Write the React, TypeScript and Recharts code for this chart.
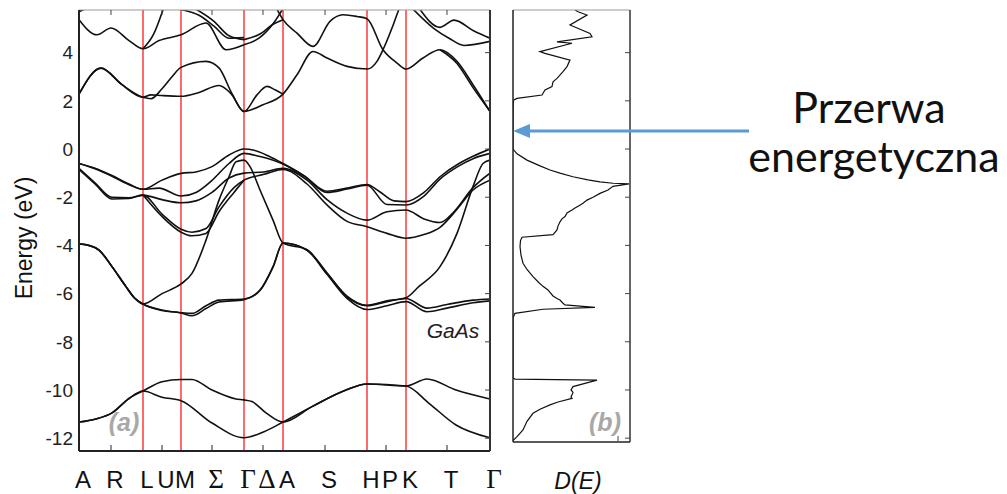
import React from 'react';
import { LineChart, Line, XAxis, YAxis, ReferenceLine } from 'recharts';

// k-path (horizontal distance along path, px-like units)
const symPoints = [64, 102, 165, 204, 288, 327]; // L M Γ A H K (inner)
const kTicks = [0, 32, 64, 83, 102, 133, 165, 184, 204, 246, 288, 307, 327, 368, 411];
const kLabels = ['A', 'R', 'L', 'U', 'M', 'Σ', 'Γ', 'Δ', 'A', 'S', 'H', 'P', 'K', 'T', 'Γ'];
const minorTicks = [32, 83, 133, 184, 246, 307, 368];
const energyTicks = [-12, -10, -8, -6, -4, -2, 0, 2, 4];

// bands: [k, E(eV)]
const sLow = [[0,-11.33],[17,-11.2],[33,-10.95],[50,-10.35],[64,-10.04],[83,-10.3],[102,-10.44],[133,-11.37],[165,-11.98],[185,-11.73],[204,-11.33],[233,-10.69],[267,-10.0],[288,-9.75],[327,-9.83],[350,-10.55],[377,-11.45],[411,-11.98]];
const sHigh = [[0,-11.33],[17,-11.2],[33,-10.95],[50,-10.35],[64,-10.04],[83,-9.66],[102,-9.56],[113,-9.56],[133,-10.0],[157,-10.37],[165,-10.41],[173,-10.48],[187,-10.95],[204,-11.33],[233,-10.69],[267,-10.0],[288,-9.75],[327,-9.83],[348,-9.54],[377,-10.0],[411,-10.37]];

const pLowA = [[0,-3.94],[10,-4.0],[20,-4.19],[33,-4.88],[47,-5.71],[56,-6.2],[64,-6.43],[83,-6.68],[102,-6.79],[113,-6.82],[127,-6.5],[140,-6.27],[165,-6.22],[181,-5.85],[194,-4.88],[204,-3.9],[228,-4.19],[248,-5.16],[268,-6.13],[288,-6.5],[308,-6.33],[327,-6.2],[348,-6.6],[368,-6.45],[394,-6.27],[411,-6.22]];
const pLowB = [[0,-3.94],[10,-4.0],[20,-4.19],[33,-4.88],[47,-5.71],[56,-6.2],[64,-6.43],[83,-6.7],[102,-6.8],[113,-6.92],[127,-6.62],[140,-6.35],[165,-6.25],[181,-5.87],[194,-4.9],[204,-3.9],[228,-4.2],[248,-5.2],[268,-6.2],[288,-6.66],[308,-6.5],[327,-6.33],[348,-6.75],[368,-6.6],[394,-6.38],[411,-6.3]];
const pSteep = [[0,-3.94],[10,-4.0],[20,-4.19],[33,-4.88],[47,-5.71],[56,-6.2],[64,-6.43],[83,-6.0],[102,-5.6],[113,-5.16],[127,-3.78],[140,-2.12],[150,-1.15],[157,-0.53],[165,-0.46],[171,-0.73],[181,-1.7],[194,-2.95],[204,-3.9],[228,-4.18],[248,-5.14],[268,-6.1],[288,-6.48],[308,-6.3],[327,-6.17],[340,-5.7],[361,-4.88],[378,-3.5],[394,-1.56],[404,-0.6],[411,-0.46]];

const v1 = [[0,-0.6],[16,-0.8],[33,-1.1],[50,-1.45],[64,-1.67],[83,-1.29],[102,-1.01],[117,-0.95],[133,-0.73],[150,-0.25],[165,0],[175,-0.05],[190,-0.3],[204,-0.6],[225,-1.1],[248,-1.75],[268,-1.62],[288,-1.47],[300,-1.75],[315,-2.15],[327,-2.18],[345,-1.8],[361,-1.15],[380,-0.6],[394,-0.3],[411,0]];
const v2 = [[0,-0.6],[16,-0.82],[33,-1.13],[50,-1.48],[64,-1.67],[80,-1.62],[102,-1.95],[117,-1.8],[133,-1.3],[150,-0.6],[165,-0.18],[180,-0.3],[204,-0.62],[225,-1.12],[248,-1.8],[268,-1.66],[288,-1.5],[308,-2.3],[327,-2.32],[345,-1.95],[361,-1.25],[380,-0.7],[394,-0.4],[411,-0.18]];
const v3 = [[0,-0.8],[16,-1.4],[33,-2.0],[50,-2.02],[64,-1.91],[83,-2.1],[102,-2.23],[117,-2.15],[133,-1.8],[150,-1.2],[165,-1.0],[185,-0.95],[204,-0.8],[228,-1.29],[248,-2.1],[268,-2.66],[288,-2.95],[308,-2.6],[327,-2.53],[345,-2.9],[361,-3.05],[375,-2.6],[394,-1.6],[411,-1.0]];
const v4 = [[0,-0.85],[16,-1.45],[33,-2.07],[50,-2.05],[64,-1.91],[83,-2.7],[102,-3.33],[113,-3.45],[127,-3.3],[140,-2.4],[155,-1.6],[165,-1.29],[185,-1.05],[204,-0.85],[228,-1.45],[248,-2.32],[268,-3.0],[288,-3.22],[308,-3.5],[327,-3.7],[345,-3.55],[361,-3.25],[378,-2.5],[394,-1.7],[411,-1.29]];
const v5 = [[64,-1.91],[83,-2.8],[102,-3.45],[113,-3.6],[127,-3.5],[140,-2.6],[155,-1.8],[165,-1.29]];

const c1 = [[0,2.28],[22,3.36],[43,2.67],[64,2.15],[72,2.09],[83,2.5],[93,3.0],[102,3.39],[127,3.64],[140,3.37],[153,2.3],[165,1.56],[184,1.84],[204,2.28],[218,3.08],[234,4.05],[248,3.78],[268,3.43],[288,3.32],[298,3.64],[304,4.12],[313,5.02],[319,5.7],[325,6.3]];
const c2 = [[0,2.28],[22,3.36],[43,2.67],[64,2.15],[72,2.25],[83,2.22],[102,2.19],[120,2.35],[140,2.64],[152,2.3],[165,1.56],[178,2.25],[188,2.6],[196,2.46],[204,2.28]];
const c3 = [[198,5.8],[204,5.37],[218,4.81],[234,4.26],[251,5.3],[264,5.57],[278,5.5],[288,5.41],[304,4.12],[318,3.57],[327,3.32],[344,3.78],[361,4.12],[378,3.64],[394,2.67],[411,1.56]];
const c4 = [[361,4.12],[378,3.55],[394,2.55],[411,1.56]];
const c5 = [[0,5.37],[18,4.74],[32,5.02],[50,4.5],[64,4.16],[80,4.5],[102,4.74],[127,5.23],[147,4.12],[165,4.33]];
const c6 = [[64,4.16],[75,4.8],[85,5.9]];
const c7 = [[100,5.8],[120,5.55],[135,5.1],[150,4.6],[165,4.63]];
const c8 = [[115,5.85],[135,5.3],[150,4.7],[165,4.54]];
const c9 = [[165,4.54],[180,4.75],[195,5.2],[204,5.37]];
const c10 = [[165,4.33],[180,4.6],[195,5.25],[205,5.9]];
const c11 = [[333,5.85],[355,5.0],[370,4.6],[385,4.3],[411,4.47]];
const c12 = [[340,5.85],[361,5.05],[375,5.35],[395,4.9],[411,4.6]];
const c13 = [[0,5.7],[8,5.85]];

const bands = [sLow, sHigh, pLowA, pLowB, pSteep, v1, v2, v3, v4, v5, c1, c2, c3, c4, c5, c6, c7, c8, c9, c10, c11, c12, c13];

// density of states: E (eV) and D (arb.)
const dosE = [5.77,5.7,5.56,5.15,4.8,4.66,4.45,4.39,4.04,3.97,3.69,3.42,3.21,2.93,2.79,2.59,2.45,2.24,2.1,2.03,1.5,0,-0.2,-0.46,-0.7,-0.87,-1.0,-1.15,-1.28,-1.36,-1.42,-1.45,-1.55,-1.7,-1.84,-2.0,-2.12,-2.25,-2.35,-2.45,-2.53,-2.65,-2.8,-2.9,-3.02,-3.2,-3.36,-3.55,-3.66,-3.8,-4.05,-4.4,-4.74,-5.0,-5.3,-5.55,-5.7,-5.85,-5.95,-6.1,-6.2,-6.27,-6.4,-6.47,-6.57,-6.65,-6.82,-7.0,-9.5,-9.55,-9.59,-9.86,-10.0,-10.1,-10.3,-10.35,-10.5,-10.62,-10.8,-10.97,-11.3,-11.66,-11.94,-12.1];
const dosD = [62,65,74,57,77,79,44,59,27,32,57,54,50,44,40,39,32,29,4,0.5,0,0,4,14,27,37,47,60,75,87,100,116,100,95,87,80,74,70,66,62,59,54,52,49,47,45,44,40,9,7.5,7,8,10,14,20,26,30,35,37,40,44,47,50,52,82,30,2,0,0,2,84,60,58,60,58,59,45,37,27,20,14,10,4,0];

const E_MIN = -12.53;
const E_MAX = 5.77;
const K_MAX = 411;

const dosData = dosE.map((e, i) => ({ e, d: dosD[i] }));

const sans = '"Liberation Sans", Arial, sans-serif';

const BottomTick = (props: any) => {
  const { x, y, payload } = props;
  const i = kTicks.indexOf(payload.value);
  const label = kLabels[i];
  const greek = 'ΣΓΔ'.includes(label);
  const minor = minorTicks.includes(payload.value);
  return (
    <g>
      {minor && <line x1={x} x2={x} y1={y - 1} y2={y - 6} stroke="#222" strokeWidth={1} />}
      <text x={x + 4} y={y + 37} textAnchor="middle" fontSize={greek ? 27 : 24} fill="#111"
        fontFamily={greek ? '"Liberation Serif", serif' : sans}>{label}</text>
    </g>
  );
};

const TopTick = (props: any) => {
  const { x, y } = props;
  return <line x1={x} x2={x} y1={y} y2={y + 5} stroke="#444" strokeWidth={1} />;
};

const RightTick = (props: any) => {
  const { x, y } = props;
  return <line x1={x} x2={x - 5} y1={y} y2={y} stroke="#444" strokeWidth={1} />;
};

const DosBottomTick = (props: any) => {
  const { x, y } = props;
  return <line x1={x} x2={x} y1={y - 1} y2={y - 6} stroke="#444" strokeWidth={1} />;
};

export default function App() {
  return (
    <div style={{ position: 'absolute', left: 0, top: 0, width: 1007, height: 494, background: '#fff', fontFamily: sans }}>
      <div style={{ position: 'absolute', left: 0, top: 0 }}>
        <LineChart width={512} height={494} margin={{ top: 5, right: 12, bottom: 10, left: 0 }}>
          <XAxis type="number" dataKey="k" domain={[0, K_MAX]} ticks={kTicks} interval={0}
            allowDataOverflow height={33} tickSize={0} tickMargin={0} tick={<BottomTick />}
            axisLine={{ stroke: '#222', strokeWidth: 2 }} tickLine={false} />
          <XAxis xAxisId="top" orientation="top" type="number" dataKey="k" domain={[0, K_MAX]}
            ticks={minorTicks} interval={0} allowDataOverflow height={5} tickSize={0} tickMargin={0}
            tick={<TopTick />} axisLine={{ stroke: '#999', strokeWidth: 1 }} tickLine={false} />
          <YAxis type="number" domain={[E_MIN, E_MAX]} ticks={energyTicks} interval={0} allowDataOverflow
            width={79} tickSize={0} tickMargin={6} tickLine={false}
            tick={{ fontSize: 19, fill: '#222', fontFamily: sans }}
            axisLine={{ stroke: '#222', strokeWidth: 2 }} />
          <YAxis yAxisId="right" orientation="right" type="number" domain={[E_MIN, E_MAX]} ticks={energyTicks}
            interval={0} allowDataOverflow width={10} tickSize={0} tickMargin={0} tickLine={false}
            tick={<RightTick />} axisLine={{ stroke: '#333', strokeWidth: 2 }} />
          {symPoints.map((k) => (
            <ReferenceLine key={k} x={k} stroke="#ff1a1a" strokeWidth={1.3} />
          ))}
          {bands.map((b, i) => (
            <Line key={i} data={b.map(([k, e]) => ({ k, e }))} dataKey="e" type="monotone"
              stroke="#111" strokeWidth={1.6} dot={false} activeDot={false} isAnimationActive={false} />
          ))}
        </LineChart>
      </div>
      <div style={{ position: 'absolute', left: 500, top: 0 }}>
        <LineChart layout="vertical" width={140} height={494} data={dosData}
          margin={{ top: 5, right: 0, bottom: 10, left: 0 }}>
          <XAxis type="number" dataKey="d" domain={[0, 117]} ticks={[105]} allowDataOverflow
            height={42} tickSize={0} tickMargin={0} tick={<DosBottomTick />} tickLine={false}
            axisLine={{ stroke: '#222', strokeWidth: 1.5 }} />
          <XAxis xAxisId="top" orientation="top" type="number" dataKey="d" domain={[0, 117]} ticks={[]}
            allowDataOverflow height={5} tick={false} tickLine={false}
            axisLine={{ stroke: '#999', strokeWidth: 1 }} />
          <YAxis type="number" dataKey="e" domain={[-12.16, E_MAX]} allowDataOverflow width={13} reversed
            tick={false} tickLine={false} axisLine={{ stroke: '#222', strokeWidth: 1.5 }} />
          <YAxis yAxisId="right" orientation="right" type="number" dataKey="e" domain={[-12.16, E_MAX]}
            reversed ticks={energyTicks} interval={0} allowDataOverflow width={10} tickSize={0} tickMargin={0}
            tickLine={false} tick={<RightTick />} axisLine={{ stroke: '#333', strokeWidth: 1.5 }} />
          <Line dataKey="d" type="linear" stroke="#111" strokeWidth={1.2} dot={false}
            activeDot={false} isAnimationActive={false} />
        </LineChart>
      </div>
      <svg width={1007} height={494} style={{ position: 'absolute', left: 0, top: 0, pointerEvents: 'none' }}>
        <text transform="translate(24,238) rotate(-90)" textAnchor="middle" dominantBaseline="central"
          fontSize={23} fill="#111" fontFamily={sans}>Energy (eV)</text>
        <text x={124} y={431} textAnchor="middle" fontSize={25} fontWeight="bold" fontStyle="italic"
          fill="#a8a8a8" fontFamily={sans}>(a)</text>
        <text x={605} y={431} textAnchor="middle" fontSize={25} fontWeight="bold" fontStyle="italic"
          fill="#a8a8a8" fontFamily={sans}>(b)</text>
        <text x={453} y={338} textAnchor="middle" fontSize={21} fontStyle="italic" fill="#222"
          fontFamily={sans}>GaAs</text>
        <text x={578} y={489} textAnchor="middle" fontSize={23} fontStyle="italic" fill="#111"
          fontFamily={sans}>D(E)</text>
        <line x1={527} y1={131} x2={749} y2={131} stroke="#5B9BD5" strokeWidth={3} />
        <polygon points="513,131 530,124 530,138" fill="#5B9BD5" />
        <text x={869} y={123} textAnchor="middle" fontSize={43} fill="#111" fontFamily="Lato, sans-serif">Przerwa</text>
        <text x={874} y={172} textAnchor="middle" fontSize={43} fill="#111" fontFamily="Lato, sans-serif">energetyczna</text>
      </svg>
    </div>
  );
}
